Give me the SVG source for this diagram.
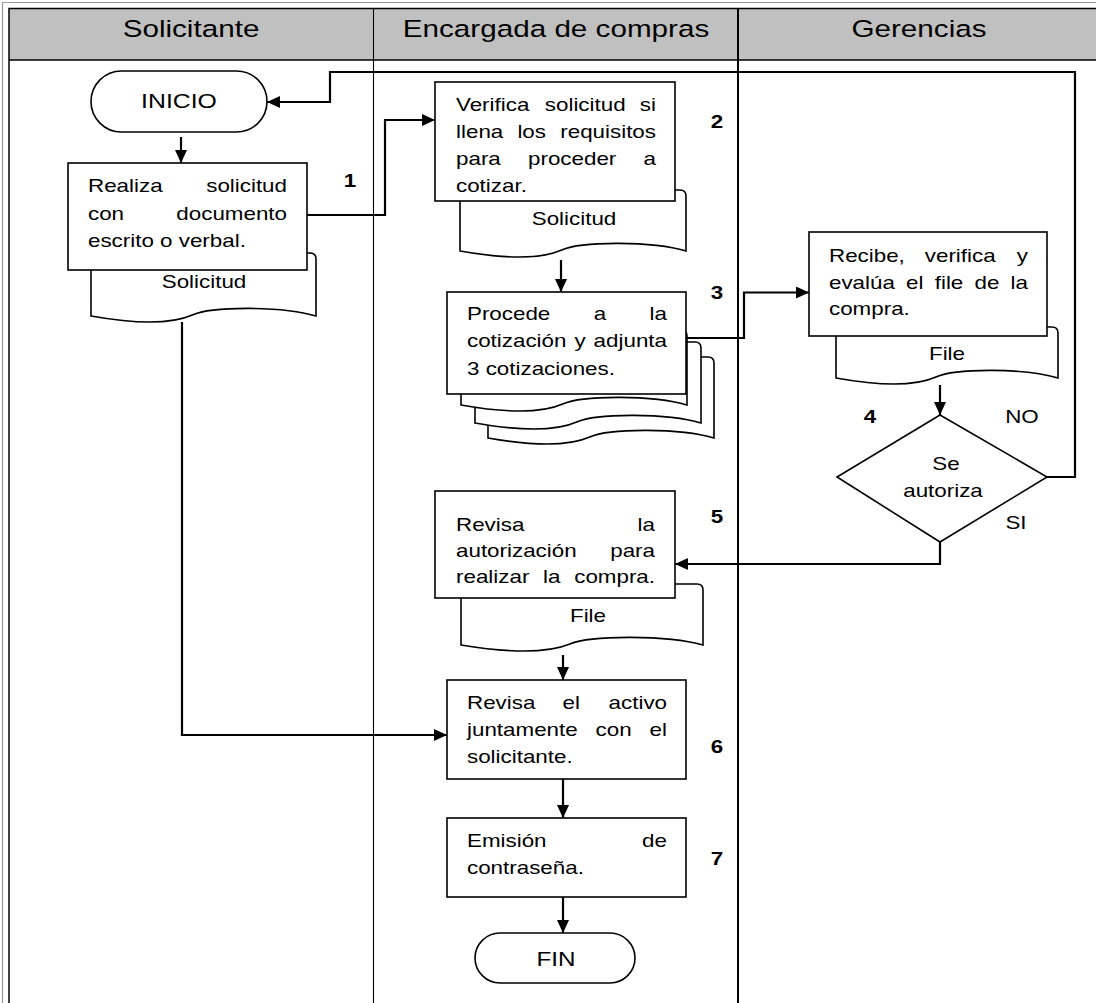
<svg xmlns="http://www.w3.org/2000/svg" width="1096" height="1003" viewBox="0 0 1096 1003">
<defs>
<marker id="ah" markerUnits="userSpaceOnUse" markerWidth="13" markerHeight="12" refX="13" refY="6" orient="auto">
<path d="M0,0 L13,6 L0,12 Z" fill="#000"/>
</marker>
</defs>
<style>
.box{fill:#fff;stroke:#000;stroke-width:1.6}
.doc{fill:#fff;stroke:#000;stroke-width:1.6}
.cn{fill:none;stroke:#000;stroke-width:2.2;marker-end:url(#ah)}
.ln{fill:none;stroke:#000;stroke-width:2.2}
text{font-family:"Liberation Sans",Arial,sans-serif;fill:#000}
.t{font-size:18.5px}
.h{font-size:24.5px}
.b{font-size:18.5px;font-weight:bold}
.m{text-anchor:middle}
.e{text-anchor:end}
</style>
<rect x="0" y="0" width="1096" height="1003" fill="#fff"/>
<g id="frame">
<rect x="9" y="8.5" width="1100" height="51.5" fill="#c0c0c0"/>
<path d="M2.5,1003 V2.5 H1096" fill="none" stroke="#9a9a9a" stroke-width="1.2"/>
<path d="M9,1003 V8.5 H1096" fill="none" stroke="#000" stroke-width="1.5"/>
<line x1="9" y1="60" x2="1096" y2="60" stroke="#000" stroke-width="1.5"/>
<line x1="373.5" y1="8.5" x2="373.5" y2="1003" stroke="#000" stroke-width="1.1"/>
<line x1="738" y1="8.5" x2="738" y2="1003" stroke="#000" stroke-width="2"/>
<text class="h m" transform="translate(191,37) scale(1.21,1)">Solicitante</text>
<text class="h m" transform="translate(556,37) scale(1.21,1)">Encargada de compras</text>
<text class="h m" transform="translate(919,37) scale(1.21,1)">Gerencias</text>
</g>
<g id="connectors">
<path class="cn" d="M181,137 V163"/>
<path class="cn" d="M307,215 H385 V120 H435"/>
<path class="cn" d="M561,260 V292"/>
<path class="cn" d="M686,338 H744 V292.5 H809"/>
<path class="cn" d="M940,385 V415"/>
<path class="cn" d="M1047,477 H1075 V72 H330 V102 H267"/>
<path class="cn" d="M940,542 V564 H675"/>
<path class="cn" d="M563,655 V680"/>
<path class="cn" d="M182,322 V735 H447"/>
<path class="cn" d="M563,779 V818"/>
<path class="cn" d="M563,897 V933"/>
</g>
<g id="inicio">
<rect class="box" x="91" y="71" width="176" height="61" rx="30.5"/>
<text class="t m" style="font-size:20.5px" transform="translate(179,108) scale(1.21,1)">INICIO</text>
</g>
<g id="n1">
<path class="doc" d="M91,253 H310 Q316,253 316,259 V316 C282.25,306 212.5,306 192.25,315 C172,324 136,324 91,316 Z"/>
<rect class="box" x="68" y="163" width="239" height="107"/>
<text class="t" transform="translate(88,192) scale(1.21,1)">Realiza</text>
<text class="t e" transform="translate(287,192) scale(1.21,1)">solicitud</text>
<text class="t" transform="translate(88,219.5) scale(1.21,1)">con</text>
<text class="t e" transform="translate(287,219.5) scale(1.21,1)">documento</text>
<text class="t" transform="translate(88,247) scale(1.21,1)">escrito o verbal.</text>
<text class="t m" transform="translate(204,288) scale(1.21,1)">Solicitud</text>
<text class="b m" transform="translate(350,187) scale(1.21,1)">1</text>
</g>
<g id="n2">
<path class="doc" d="M460,190 H680 Q686,190 686,196 V251 C652.1,241 582,241 561.7,250 C541.4,259 505.2,259 460,251 Z"/>
<rect class="box" x="435" y="82" width="240" height="119"/>
<text class="t" transform="translate(456,111) scale(1.21,1)">Verifica</text>
<text class="t" transform="translate(544.8,111) scale(1.21,1)">solicitud</text>
<text class="t e" transform="translate(656,111) scale(1.21,1)">si</text>
<text class="t" transform="translate(456,138) scale(1.21,1)">llena</text>
<text class="t" transform="translate(517.4,138) scale(1.21,1)">los</text>
<text class="t e" transform="translate(656,138) scale(1.21,1)">requisitos</text>
<text class="t" transform="translate(456,165) scale(1.21,1)">para</text>
<text class="t" transform="translate(528,165) scale(1.21,1)">proceder</text>
<text class="t e" transform="translate(656,165) scale(1.21,1)">a</text>
<text class="t" transform="translate(456,192) scale(1.21,1)">cotizar.</text>
<text class="t m" transform="translate(574,225) scale(1.21,1)">Solicitud</text>
<text class="b m" transform="translate(717,128) scale(1.21,1)">2</text>
</g>
<g id="n3">
<path class="doc" d="M488,357 H708 Q714,357 714,363 V438 C680.1,428 610,428 589.7,437 C569.4,446 533.2,446 488,438 Z"/>
<path class="doc" d="M475,342 H695 Q701,342 701,348 V423 C667.1,413 597,413 576.7,422 C556.4,431 520.2,431 475,423 Z"/>
<path class="doc" d="M461,330 H681 Q687,330 687,336 V405 C653.1,395 583,395 562.7,404 C542.4,413 506.2,413 461,405 Z"/>
<rect class="box" x="447" y="292" width="239" height="102"/>
<text class="t" transform="translate(467,320) scale(1.21,1)">Procede</text>
<text class="t" transform="translate(593.8,320) scale(1.21,1)">a</text>
<text class="t e" transform="translate(667,320) scale(1.21,1)">la</text>
<text class="t" transform="translate(467,347) scale(1.21,1)">cotización</text>
<text class="t" transform="translate(574.5,347) scale(1.21,1)">y</text>
<text class="t e" transform="translate(667,347) scale(1.21,1)">adjunta</text>
<text class="t" transform="translate(467,375) scale(1.21,1)">3 cotizaciones.</text>
<text class="b m" transform="translate(717,299) scale(1.21,1)">3</text>
</g>
<g id="recibe">
<path class="doc" d="M836,327 H1052 Q1058,327 1058,333 V378 C1024.7,368 955.9,368 935.9,377 C915.9,386 880.4,386 836,378 Z"/>
<rect class="box" x="809" y="232" width="238" height="104"/>
<text class="t" transform="translate(829,262) scale(1.21,1)">Recibe,</text>
<text class="t" transform="translate(924.8,262) scale(1.21,1)">verifica</text>
<text class="t e" transform="translate(1028,262) scale(1.21,1)">y</text>
<text class="t" transform="translate(829,288.5) scale(1.21,1)">evalúa</text>
<text class="t" transform="translate(906.1,288.5) scale(1.21,1)">el</text>
<text class="t" transform="translate(934.7,288.5) scale(1.21,1)">file</text>
<text class="t" transform="translate(974.5,288.5) scale(1.21,1)">de</text>
<text class="t e" transform="translate(1028,288.5) scale(1.21,1)">la</text>
<text class="t" transform="translate(829,315) scale(1.21,1)">compra.</text>
<text class="t m" transform="translate(947,360) scale(1.21,1)">File</text>
</g>
<g id="n4">
<polygon class="box" points="940,415 1047,477 940,542 837,477"/>
<text class="t m" transform="translate(946,470) scale(1.21,1)">Se</text>
<text class="t m" transform="translate(943,497) scale(1.21,1)">autoriza</text>
<text class="b m" transform="translate(870,423) scale(1.21,1)">4</text>
<text class="t m" transform="translate(1022,423) scale(1.21,1)">NO</text>
<text class="t m" transform="translate(1016,529) scale(1.21,1)">SI</text>
</g>
<g id="n5">
<path class="doc" d="M461,584 H697 Q703,584 703,590 V645 C666.7,635 591.7,635 569.9,644 C548.1,653 509.4,653 461,645 Z"/>
<rect class="box" x="435" y="491" width="240" height="107"/>
<text class="t" transform="translate(456,531) scale(1.21,1)">Revisa</text>
<text class="t e" transform="translate(655,531) scale(1.21,1)">la</text>
<text class="t" transform="translate(456,557) scale(1.21,1)">autorización</text>
<text class="t e" transform="translate(655,557) scale(1.21,1)">para</text>
<text class="t" transform="translate(456,583) scale(1.21,1)">realizar</text>
<text class="t" transform="translate(543,583) scale(1.21,1)">la</text>
<text class="t e" transform="translate(655,583) scale(1.21,1)">compra.</text>
<text class="t m" transform="translate(588,622) scale(1.21,1)">File</text>
<text class="b m" transform="translate(717,523) scale(1.21,1)">5</text>
</g>
<g id="n6">
<rect class="box" x="447" y="680" width="239" height="99"/>
<text class="t" transform="translate(467,709) scale(1.21,1)">Revisa</text>
<text class="t" transform="translate(562.6,709) scale(1.21,1)">el</text>
<text class="t e" transform="translate(667,709) scale(1.21,1)">activo</text>
<text class="t" transform="translate(467,736) scale(1.21,1)">juntamente</text>
<text class="t" transform="translate(595.6,736) scale(1.21,1)">con</text>
<text class="t e" transform="translate(667,736) scale(1.21,1)">el</text>
<text class="t" transform="translate(467,763) scale(1.21,1)">solicitante.</text>
<text class="b m" transform="translate(717,753) scale(1.21,1)">6</text>
</g>
<g id="n7">
<rect class="box" x="447" y="818" width="239" height="79"/>
<text class="t" transform="translate(467,847) scale(1.21,1)">Emisión</text>
<text class="t e" transform="translate(667,847) scale(1.21,1)">de</text>
<text class="t" transform="translate(467,874) scale(1.21,1)">contraseña.</text>
<text class="b m" transform="translate(717,865) scale(1.21,1)">7</text>
</g>
<g id="fin">
<rect class="box" x="475" y="933" width="160" height="50" rx="25"/>
<text class="t m" style="font-size:20px" transform="translate(556,966) scale(1.21,1)">FIN</text>
</g>
</svg>
